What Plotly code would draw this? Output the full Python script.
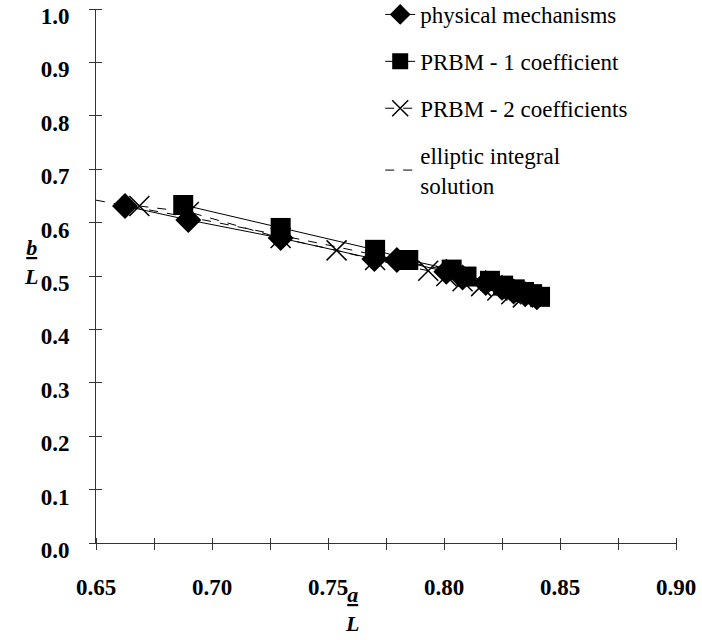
import plotly.graph_objects as go

# ---- data ----
phys_x = [0.6625, 0.6898, 0.7296, 0.7700, 0.7797, 0.8010, 0.8080, 0.8180, 0.8250, 0.8300, 0.8350, 0.8400]
phys_y = [0.631, 0.605, 0.571, 0.532, 0.530, 0.508, 0.497, 0.487, 0.478, 0.471, 0.466, 0.460]

prbm1_x = [0.6876, 0.7296, 0.7703, 0.7846, 0.8033, 0.8097, 0.8198, 0.8255, 0.8305, 0.8345, 0.8380, 0.8414]
prbm1_y = [0.633, 0.590, 0.549, 0.530, 0.512, 0.499, 0.491, 0.482, 0.475, 0.470, 0.466, 0.461]

prbm2_x = [0.6687, 0.6900, 0.7296, 0.7537, 0.7703, 0.7932, 0.8010, 0.8080, 0.8160, 0.8230, 0.8290, 0.8340]
prbm2_y = [0.631, 0.620, 0.571, 0.548, 0.530, 0.510, 0.500, 0.490, 0.481, 0.473, 0.466, 0.460]

ell_x = [0.650, 0.700, 0.750, 0.800]
ell_y = [0.642, 0.602, 0.558, 0.512]

x_ticks = [0.65, 0.675, 0.70, 0.725, 0.75, 0.775, 0.80, 0.825, 0.85, 0.875, 0.90]
x_tick_text = ["0.65", "", "0.70", "", "0.75", "", "0.80", "", "0.85", "", "0.90"]
y_ticks = [0.0, 0.1, 0.2, 0.3, 0.4, 0.5, 0.6, 0.7, 0.8, 0.9, 1.0]
y_tick_text = ["<b>%.1f</b>" % v for v in y_ticks]

SERIF = "Liberation Serif"
PLOT_W = 580.0
PLOT_H = 534.0

fig = go.Figure()

fig.add_trace(go.Scatter(
    x=ell_x, y=ell_y, mode="lines", name="elliptic integral<br>solution",
    line=dict(color="black", width=1, dash="dash"), legendgroup="d", legendrank=4))
fig.add_trace(go.Scatter(
    x=prbm2_x, y=prbm2_y, mode="lines+markers", name="PRBM - 2 coefficients",
    line=dict(color="black", width=1, dash="dash"),
    marker=dict(symbol="x-thin-open", size=20, line=dict(color="black", width=1.5)),
    legendgroup="c", legendrank=3))
fig.add_trace(go.Scatter(
    x=phys_x, y=phys_y, mode="lines+markers", name="physical mechanisms",
    line=dict(color="black", width=1),
    marker=dict(symbol="diamond", size=20, color="black"),
    legendgroup="a", legendrank=1))
fig.add_trace(go.Scatter(
    x=prbm1_x, y=prbm1_y, mode="lines+markers", name="PRBM - 1 coefficient",
    line=dict(color="black", width=1),
    marker=dict(symbol="square", size=20, color="black"),
    legendgroup="b", legendrank=2))

# invisible trace for the free tick axes (crossing ticks)
fig.add_trace(go.Scatter(x=[0.65], y=[0.0], xaxis="x2", yaxis="y2",
                         mode="markers", marker=dict(opacity=0),
                         showlegend=False, hoverinfo="skip"))

fig.update_layout(
    width=702, height=640,
    margin=dict(l=96, r=26, t=9, b=97, autoexpand=False),
    plot_bgcolor="white", paper_bgcolor="white",
    font=dict(family=SERIF, color="black", size=21),
    xaxis=dict(range=[0.65, 0.90], tickvals=x_ticks,
               ticktext=["<b>%s</b>" % t if t else "" for t in x_tick_text],
               showgrid=False, zeroline=False, showline=True, linecolor="#333",
               linewidth=1, ticks="outside", ticklen=6, tickcolor="#333",
               tickwidth=1, ticklabelstandoff=17, ticklabeloverflow="allow",
               tickfont=dict(family=SERIF, size=23, color="black")),
    yaxis=dict(range=[0, 1], tickvals=y_ticks, ticktext=y_tick_text,
               showgrid=False, zeroline=False, showline=True, linecolor="#333",
               linewidth=1, ticks="outside", ticklen=6, tickcolor="#333",
               tickwidth=1, ticklabelstandoff=15, ticklabelshift=7,
               ticklabeloverflow="allow",
               tickfont=dict(family=SERIF, size=23, color="black")),
    xaxis2=dict(range=[0.65, 0.90], overlaying="x", anchor="free",
                position=6.0 / PLOT_H, tickvals=x_ticks,
                showticklabels=False, ticks="outside", ticklen=12,
                tickcolor="#333", showgrid=False, zeroline=False,
                showline=False),
    yaxis2=dict(range=[0, 1], overlaying="y", anchor="free",
                position=6.0 / PLOT_W, tickvals=y_ticks,
                showticklabels=False, ticks="outside", ticklen=12,
                tickcolor="#333", showgrid=False, zeroline=False,
                showline=False),
    legend=dict(x=0.490, y=1.03, xanchor="left", yanchor="top",
                font=dict(family=SERIF, size=23, color="black"),
                bgcolor="rgba(0,0,0,0)", tracegroupgap=14,
                itemsizing="trace"),
    showlegend=True,
)

fig.add_annotation(xref="paper", yref="paper", x=-0.128, y=0.527,
                   text="<b><i><u>b</u></i></b><br><b><i>L</i></b>",
                   showarrow=False, font=dict(family=SERIF, size=22),
                   align="center")
fig.add_annotation(xref="paper", yref="paper", x=0.441, y=-0.177,
                   yanchor="bottom",
                   text="<b><i><u>a</u></i></b><br><b><i>L</i></b>",
                   showarrow=False, font=dict(family=SERIF, size=22),
                   align="center")

fig.write_html("out.html")
